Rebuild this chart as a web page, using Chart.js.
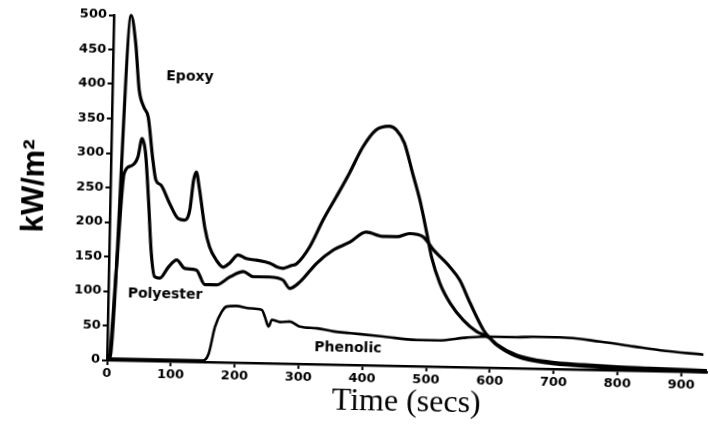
<!DOCTYPE html>
<html><head><meta charset="utf-8">
<script src="https://cdn.jsdelivr.net/npm/chart.js@4.4.1/dist/chart.umd.min.js"></script>
<style>
html,body{margin:0;padding:0;background:#fff;overflow:hidden;}
#c{display:block;transform:rotate(1.15deg);transform-origin:107px 360px;}
</style></head><body>
<canvas id="c" width="710" height="444"></canvas>
<script>
// ---- data (time in seconds, heat release rate in kW/m2) ----
const epoxyTime = [0,5,27,35,42,50,57,65,71,79,93,107,117,125,130,134,139,149,157,168,179,189,202,215,231,252,263,273,285,294,314,334,354,374,394,414,435,446,459,473,485,497,505,519,536,557,578,597,610,642,694,747,800,851,940];
const epoxyHeat = [0,5,500,460,392,367,353,295,262,255,229,207,205,220,263,275,253,195,167,148,138,144,156,151,149,145,140,138,142,145,170,209,243,278,316,341,347,342,323,279,241,193,159,121,92,68,52,44,33,17,8,5,3,2,0];

const polyesterTime = [0,3,12,21,32,42,48,54,60,66,72,80,93,106,119,137,151,169,190,211,226,252,273,284,300,325,351,377,402,429,450,470,491,508,534,550,567,589,597,610,642,694,747,800,851,940];
const polyesterHeat = [0,2,135,271,282,295,322,300,233,156,122,120,136,147,135,133,112,112,124,132,125,125,121,109,119,146,166,178,193,187,187,192,188,169,145,126,93,54,45,34,19,10,7,5,4,2];

const phenolicTime = [0,150,159,168,178,186,201,222,241,246,252,257,270,285,301,328,354,380,432,485,516,563,600,641,667,709,772,824,867,934];
const phenolicHeat = [2,2,12,51,73,81,82,79,77,67,53,63,60,61,54,52,48,46,42,38,38,43,45,45,46,46,41,35,30,25];

const xTickValues = [0,100,200,300,400,500,600,700,800,900];
const yTickValues = [0,50,100,150,200,250,300,350,400,450,500];

const seriesNames = ['Epoxy','Polyester','Phenolic'];
const labelTime = [121, 89, 377];
const labelHeat = [413, 96, 24];

function pts(t, v){ return t.map((x,i)=>({x:x, y:v[i]})); }

const inlineLabels = {
  id:'inlineLabels',
  afterDatasetsDraw(chart){
    const {ctx, scales:{x,y}} = chart;
    ctx.save();
    ctx.font = 'bold 14px "DejaVu Sans"';
    ctx.fillStyle = '#000';
    ctx.textAlign = 'center';
    ctx.textBaseline = 'middle';
    seriesNames.forEach((n,i)=>{
      ctx.fillText(n, x.getPixelForValue(labelTime[i]), y.getPixelForValue(labelHeat[i]));
    });
    ctx.restore();
  }
};

const tickFont = {family:'"DejaVu Sans"', size:13, weight:'bold'};

new Chart(document.getElementById('c'), {
  type:'line',
  data:{
    datasets:[
      {label:'Epoxy', data:pts(epoxyTime, epoxyHeat), borderColor:'#000', borderWidth:3.2, pointRadius:0, cubicInterpolationMode:'monotone', clip:false},
      {label:'Polyester', data:pts(polyesterTime, polyesterHeat), borderColor:'#000', borderWidth:3.2, pointRadius:0, cubicInterpolationMode:'monotone', clip:false},
      {label:'Phenolic', data:pts(phenolicTime, phenolicHeat), borderColor:'#000', borderWidth:2.6, pointRadius:0, cubicInterpolationMode:'monotone', clip:false}
    ]
  },
  options:{
    responsive:false,
    animation:false,
    events:[],
    layout:{padding:{top:15, left:13, right:3, bottom:28}},
    plugins:{legend:{display:false}, tooltip:{enabled:false}},
    scales:{
      x:{
        type:'linear', min:0, max:940,
        afterBuildTicks(s){ s.ticks = xTickValues.map(v=>({value:v})); },
        afterFit(s){ s.height = 56; },
        grid:{drawOnChartArea:false, drawTicks:true, tickLength:5, tickWidth:2, tickColor:'#000'},
        border:{color:'#000', width:2.5},
        ticks:{color:'#000', font:tickFont, padding:1, maxRotation:0, autoSkip:false},
        title:{display:true, text:'Time (secs)', color:'#000', font:{family:'"Liberation Serif"', size:32}, padding:0}
      },
      y:{
        min:0, max:500,
        afterBuildTicks(s){ s.ticks = yTickValues.map(v=>({value:v})); },
        afterFit(s){ s.width = 94; },
        grid:{drawOnChartArea:false, drawTicks:true, tickLength:5, tickWidth:2, tickColor:'#000'},
        border:{color:'#000', width:2.5},
        ticks:{color:'#000', font:tickFont, padding:2, autoSkip:false},
        title:{display:true, text:'kW/m²', color:'#000', font:{family:'"Liberation Sans"', size:31, weight:'bold'}, padding:0}
      }
    }
  },
  plugins:[inlineLabels]
});
</script>
</body></html>
